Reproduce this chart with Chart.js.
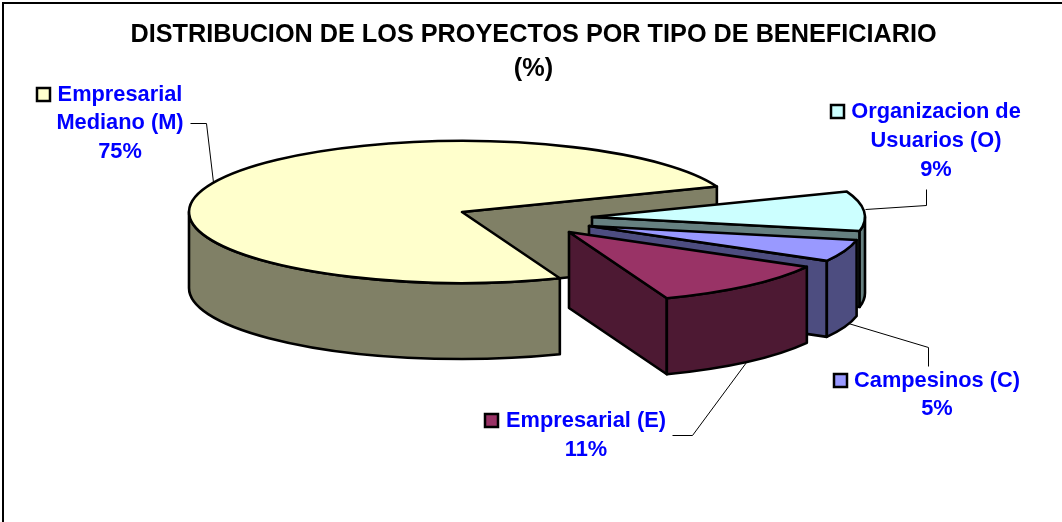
<!DOCTYPE html>
<html><head><meta charset="utf-8">
<style>html,body{margin:0;padding:0;background:#fff}canvas{display:block}</style>
<script src="https://cdn.jsdelivr.net/npm/chart.js@4"></script>
</head><body><canvas id="c" width="1062" height="522"></canvas>
<script>
const categories = ['Empresarial Mediano (M)', 'Organizacion de Usuarios (O)', 'Campesinos (C)', 'Empresarial (E)'];
const values = [75, 9, 5, 11];
const titleLines = ['DISTRIBUCION DE LOS PROYECTOS POR TIPO DE BENEFICIARIO', '(%)'];
const labelLines = [['Empresarial', 'Mediano (M)'], ['Organizacion de', 'Usuarios (O)'], ['Campesinos (C)'], ['Empresarial (E)']];
const topColors = ['#FFFFCC', '#CCFFFF', '#9999FF', '#993366'];
const sideColors = ['#808066', '#668080', '#4D4D80', '#4D1933'];

const PIE = {cx: 462, cy: 212, r: 273, k: 0.26, depth: 76};
const explode = [[0, 0], [130, 5], [127, 14], [107, 20]];
const labelFont = 'bold 21.8px "Liberation Sans", Arial, sans-serif';
const labelLayout = [
  {cx: 120, ys: [95, 123, 152], key: [37, 88], leader: [[190, 123], [206, 123], [213, 182]]},
  {cx: 936, ys: [112, 141, 170], key: [831, 105], leader: [[865, 209], [926, 205], [926, 189]]},
  {cx: 937, ys: [381, 409], key: [834, 374], leader: [[848, 323], [928, 347], [928, 366]]},
  {cx: 586, ys: [421, 450], key: [485, 414], leader: [[746, 362], [692, 435], [672, 435]]}
];

function pt(x, y, r, k, a) { return [x + r * Math.cos(a), y + k * r * Math.sin(a)]; }

const pie3d = {
  id: 'pie3d',
  beforeDatasetDraw(chart) {
    const ctx = chart.ctx;
    const arcs = chart.getDatasetMeta(0).data;
    const {k, depth} = PIE;
    // frame
    ctx.save();
    ctx.strokeStyle = '#000'; ctx.lineWidth = 2;
    ctx.beginPath(); ctx.moveTo(3, 522); ctx.lineTo(3, 3); ctx.lineTo(1062, 3); ctx.stroke();
    ctx.restore();

    arcs.forEach((arc, i) => {
      const p = arc.getProps(['x', 'y', 'startAngle', 'endAngle', 'outerRadius'], true);
      const x = PIE.cx + explode[i][0], y = PIE.cy + explode[i][1];
      const R = p.outerRadius, s = p.startAngle, e = p.endAngle;
      ctx.save();
      ctx.lineWidth = 2.6; ctx.strokeStyle = '#000'; ctx.lineJoin = 'round';
      ctx.fillStyle = sideColors[i];
      // walls facing the viewer
      [[s, Math.cos(s) < 0], [e, Math.cos(e) > 0]].forEach(([a, vis]) => {
        if (!vis) return;
        const q = pt(x, y, R, k, a);
        ctx.beginPath();
        ctx.moveTo(x, y); ctx.lineTo(q[0], q[1]); ctx.lineTo(q[0], q[1] + depth); ctx.lineTo(x, y + depth);
        ctx.closePath(); ctx.fill(); ctx.stroke();
      });
      // rim: lower half of the ellipse only
      for (let n = -1; n <= 2; n++) {
        const a0 = Math.max(s, n * 2 * Math.PI), a1 = Math.min(e, n * 2 * Math.PI + Math.PI);
        if (a1 <= a0) continue;
        ctx.beginPath();
        ctx.ellipse(x, y, R, k * R, 0, a0, a1);
        ctx.ellipse(x, y + depth, R, k * R, 0, a1, a0, true);
        ctx.closePath(); ctx.fill(); ctx.stroke();
      }
      // top face: library arc under an elliptical transform
      ctx.save();
      ctx.translate(x, y); ctx.scale(1, k); ctx.translate(-p.x, -p.y);
      arc.draw(ctx);
      ctx.restore();
      ctx.beginPath();
      ctx.moveTo(x, y);
      ctx.ellipse(x, y, R, k * R, 0, s, e);
      ctx.closePath(); ctx.stroke();
      ctx.restore();
    });
    return false;
  },
  afterDraw(chart) {
    const ctx = chart.ctx;
    labelLayout.forEach((l, i) => {
      ctx.save();
      ctx.strokeStyle = '#000'; ctx.lineWidth = 1;
      ctx.beginPath();
      l.leader.forEach((q, j) => j ? ctx.lineTo(q[0] + .5, q[1] + .5) : ctx.moveTo(q[0] + .5, q[1] + .5));
      ctx.stroke();
      ctx.fillStyle = topColors[i]; ctx.lineWidth = 2.5;
      ctx.fillRect(l.key[0], l.key[1], 13, 13);
      ctx.strokeRect(l.key[0], l.key[1], 13, 13);
      ctx.font = labelFont; ctx.fillStyle = '#0000FF'; ctx.textAlign = 'center'; ctx.textBaseline = 'middle';
      labelLines[i].concat([values[i] + '%']).forEach((t, j) => ctx.fillText(t, l.cx, l.ys[j]));
      ctx.restore();
    });
  }
};

new Chart(document.getElementById('c'), {
  type: 'pie',
  data: {labels: categories, datasets: [{data: values, backgroundColor: topColors, borderWidth: 0}]},
  options: {
    responsive: false, animation: false,
    rotation: 159, radius: PIE.r,
    layout: {padding: {left: 5}},
    plugins: {
      legend: {display: false}, tooltip: {enabled: false},
      title: {display: true, text: titleLines, color: '#000', padding: {top: 18, bottom: 0},
        font: {family: '"Liberation Sans", Arial, sans-serif', size: 25.25, weight: 'bold', lineHeight: 1.36}}
    }
  },
  plugins: [pie3d]
});
</script></body></html>
